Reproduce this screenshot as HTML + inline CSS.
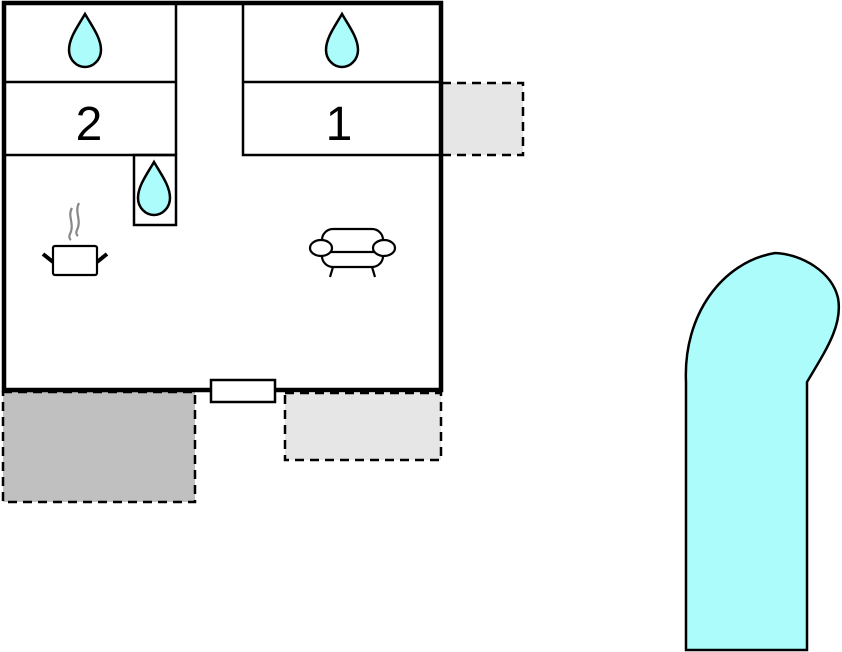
<!DOCTYPE html>
<html><head><style>html,body{margin:0;padding:0;background:#fff;width:842px;height:652px;overflow:hidden}</style></head>
<body>
<svg width="842" height="652" viewBox="0 0 842 652" xmlns="http://www.w3.org/2000/svg">
<defs>
<path id="drop" d="M0,-27 C-7,-15 -16,-3 -16,9 C-16,19 -8,26 0,26 C8,26 16,19 16,9 C16,-3 7,-15 0,-27 Z" fill="#adfcfc" stroke="#000" stroke-width="2.5"/>
</defs>
<!-- dashed exterior areas -->
<rect x="442" y="83" width="81" height="72" fill="#e6e6e6"/>
<path d="M442,83 H523 V155 H442" fill="none" stroke="#000" stroke-width="2.5" stroke-dasharray="9,6"/>
<rect x="3" y="392" width="192" height="110" fill="#c0c0c0" stroke="#000" stroke-width="2.5" stroke-dasharray="9,6"/>
<rect x="285" y="393" width="156" height="67" fill="#e6e6e6" stroke="#000" stroke-width="2.5" stroke-dasharray="9,6"/>
<!-- house -->
<rect x="4" y="3" width="437" height="387" fill="#fff" stroke="#000" stroke-width="4.5"/>
<g stroke="#000" stroke-width="2.5" fill="none">
<path d="M176,3 V155 M4,82 H176 M4,155 H176"/>
<path d="M243,3 V155 H441 M243,82 H441"/>
<rect x="134" y="155" width="42" height="70"/>
</g>
<rect x="211" y="380" width="64" height="22" fill="#fff" stroke="#000" stroke-width="2.5"/>
<!-- drops -->
<use href="#drop" x="85" y="41"/>
<use href="#drop" x="342" y="41"/>
<use href="#drop" x="154" y="189"/>
<!-- numbers -->
<text x="89" y="140" font-family="Liberation Sans, sans-serif" font-size="48" text-anchor="middle">2</text>
<text x="339" y="140" font-family="Liberation Sans, sans-serif" font-size="48" text-anchor="middle">1</text>
<!-- pot -->
<g stroke="#000" stroke-width="2.2" fill="#fff">
<rect x="53" y="246" width="44" height="29" rx="2"/>
<path d="M43,254 L53,262 M107,254 L97,262" stroke-width="4"/>
</g>
<path d="M72,208 C67,216 75,224 70,234 C68,238 71,240 71,240 M79,203 C74,212 82,220 77,230 C75,234 78,236 78,236" stroke="#888" stroke-width="2.2" fill="none"/>
<!-- sofa -->
<g stroke="#000" stroke-width="2.2" fill="#fff">
<rect x="322" y="229" width="61" height="38" rx="11"/>
<line x1="325" y1="252" x2="378" y2="252"/>
<ellipse cx="321" cy="248" rx="11" ry="8"/>
<ellipse cx="384" cy="248" rx="11" ry="8"/>
<path d="M333,267 L330,277 M372,267 L375,277" fill="none"/>
</g>
<!-- pool -->
<path d="M686,650 L686,382 C683,315 722,262 775,253 C802,254 832,272 838,298 C843,325 826,350 807,382 L807,650 Z" fill="#adfcfc" stroke="#000" stroke-width="2.5"/>
</svg>
</body></html>
